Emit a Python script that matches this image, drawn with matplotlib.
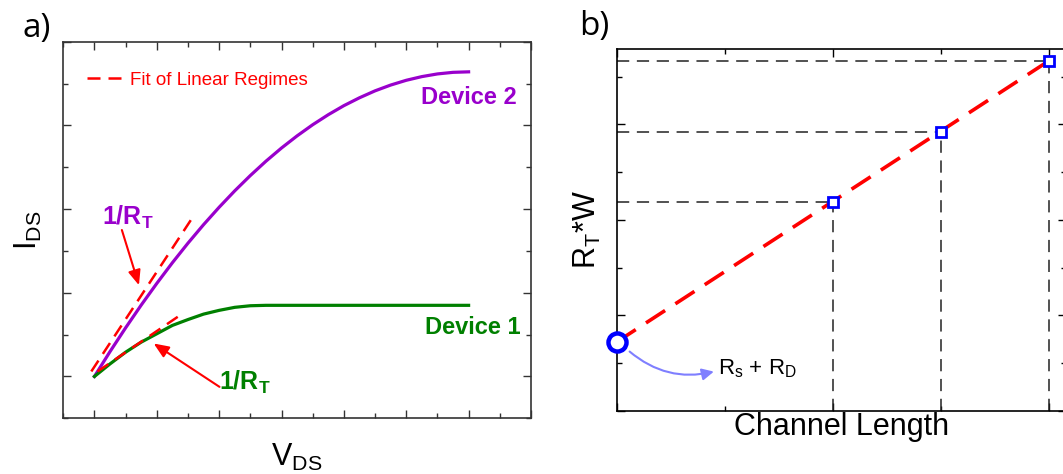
import matplotlib
matplotlib.use("Agg")
import matplotlib.pyplot as plt
from matplotlib.ticker import MultipleLocator

plt.rcParams['font.family'] = ['Liberation Sans', 'DejaVu Sans']
plt.rcParams['mathtext.fontset'] = 'custom'
plt.rcParams['mathtext.rm'] = 'Liberation Sans'
plt.rcParams['mathtext.bf'] = 'Liberation Sans:bold'
plt.rcParams['mathtext.it'] = 'Liberation Sans:italic'

# ---- panel a: output curves (arbitrary units)
vds2 = [0, 0.25, 0.5, 0.75, 1, 1.25, 1.5, 1.75, 2, 2.25, 2.5, 2.75, 3,
        3.25, 3.5, 3.75, 4, 4.25, 4.5, 4.75, 5, 5.25, 5.5, 5.75, 6]
ids2 = [0, 0.297, 0.581, 0.853, 1.112, 1.359, 1.593, 1.814, 2.022, 2.218,
        2.401, 2.572, 2.73, 2.875, 3.008, 3.128, 3.236, 3.330, 3.413, 3.482,
        3.539, 3.583, 3.615, 3.634, 3.64]
vds1 = [0, 0.25, 0.5, 0.75, 1, 1.25, 1.5, 1.75, 2, 2.25, 2.5, 2.75, 6]
ids1 = [0, 0.15, 0.29, 0.41, 0.51, 0.61, 0.68, 0.745, 0.79, 0.826, 0.845, 0.85, 0.85]
fit2_x = [-0.05, 1.6]
fit2_y = [0.06, 1.93]
fit1_x = [0.05, 1.36]
fit1_y = [0.06, 0.725]

# ---- panel b: TLM extraction
chan_len = [2, 3, 4]
rtw = [2.19, 2.925, 3.665]
rsd_x = 0
rsd_y = 0.72

purple = '#9900cc'
green = '#008000'

fig = plt.figure(figsize=(10.63, 4.74), dpi=100)
ax1 = fig.add_axes([0.0595, 0.1175, 0.440, 0.7945])
ax2 = fig.add_axes([0.5801, 0.1335, 0.4227, 0.7631])

for ax in (ax1, ax2):
    ax.tick_params(which='both', direction='in', top=True, right=True,
                   labelbottom=False, labelleft=False, width=1.0)
    ax.tick_params(which='major', length=6)
    ax.tick_params(which='minor', length=3.5)
    for s in ax.spines.values():
        s.set_linewidth(1.2)

# panel a
ax1.plot(vds2, ids2, color=purple, lw=2.3, solid_joinstyle='round')
ax1.plot(vds1, ids1, color=green, lw=2.3, solid_joinstyle='round')
ax1.plot(fit2_x, fit2_y, color='red', lw=1.8, dashes=(5.2, 3.2),
         label='Fit of Linear Regimes')
ax1.plot(fit1_x, fit1_y, color='red', lw=1.8, dashes=(5.2, 3.2))
ax1.set_xlim(-0.5, 7.0)
ax1.set_ylim(-0.5, 4.0)
ax1.xaxis.set_major_locator(MultipleLocator(1))
ax1.xaxis.set_minor_locator(MultipleLocator(0.5))
ax1.yaxis.set_major_locator(MultipleLocator(1))
ax1.yaxis.set_minor_locator(MultipleLocator(0.5))
for s in ax1.spines.values():
    s.set_color('#333333')
ax1.tick_params(which='both', color='#333333')

leg = ax1.legend(loc='center left', bbox_to_anchor=(0.05, 0.898), frameon=False,
                 fontsize=13.5, handlelength=2.2, handletextpad=0.1,
                 borderpad=0, borderaxespad=0)
for t in leg.get_texts():
    t.set_color('red')

ax1.text(5.24, 3.25, 'Device 2', color=purple, fontsize=17, fontweight='bold')
ax1.text(5.30, 0.51, 'Device 1', color=green, fontsize=17, fontweight='bold')
ax1.text(0.12, 1.81, r'$\mathbf{1/R_T}$', color=purple, fontsize=18)
ax1.text(2.0, -0.165, r'$\mathbf{1/R_T}$', color=green, fontsize=18)
arr = dict(arrowstyle='-|>,head_length=0.6,head_width=0.25', color='red',
           lw=1.5, mutation_scale=15, shrinkA=0, shrinkB=0)
ax1.annotate('', xy=(0.714, 1.09), xytext=(0.44, 1.75), arrowprops=arr)
ax1.annotate('', xy=(0.95, 0.394), xytext=(2.005, -0.124), arrowprops=arr)

ax1.set_xlabel(r'$\mathregular{V_{DS}}$', fontsize=22, labelpad=17)
ax1.set_ylabel(r'$\mathregular{I_{DS}}$', fontsize=22, labelpad=14)

# panel b
for xl, yl in zip(chan_len, rtw):
    ax2.plot([0, xl], [yl, yl], color='#222222', lw=1.1, dashes=(8, 5))
    ax2.plot([xl, xl], [0, yl], color='#222222', lw=1.1, dashes=(8, 5))
ax2.plot([rsd_x, chan_len[-1]], [rsd_y, rtw[-1]], color='red', lw=2.6,
         dashes=(6.3, 3.4))
ax2.plot(chan_len, rtw, ls='none', marker='s', ms=7.5, mfc='white', mec='blue',
         mew=2, zorder=5)
ax2.plot([rsd_x], [rsd_y], ls='none', marker='o', ms=13, mfc='white', mec='blue',
         mew=3.2, zorder=6, clip_on=False)
ax2.set_xlim(0, 4.16)
ax2.set_ylim(0, 3.79)
ax2.xaxis.set_major_locator(MultipleLocator(2))
ax2.xaxis.set_minor_locator(MultipleLocator(1))
ax2.yaxis.set_major_locator(MultipleLocator(1))
ax2.yaxis.set_minor_locator(MultipleLocator(0.5))

ax2.annotate('', xy=(0.90, 0.41), xytext=(0.12, 0.62),
             arrowprops=dict(arrowstyle='-|>,head_length=0.5,head_width=0.25',
                             color='#7f7fff', lw=1.5, mutation_scale=14,
                             connectionstyle='arc3,rad=0.25', shrinkA=0, shrinkB=0))
ax2.text(0.94, 0.385, r'$\mathregular{R_s}$ + $\mathregular{R_D}$', fontsize=16,
         va='baseline')

ax2.set_xlabel('Channel Length', fontsize=22, labelpad=1)
ax2.set_ylabel(r'$\mathregular{R_T}$*W', fontsize=22, labelpad=10)

fig.text(22 / 1063, 0.922, 'a)', fontsize=24, family='Open Sans')
fig.text(579 / 1063, 0.926, 'b)', fontsize=24, family='Open Sans')

fig.savefig('out.png', dpi=100)
